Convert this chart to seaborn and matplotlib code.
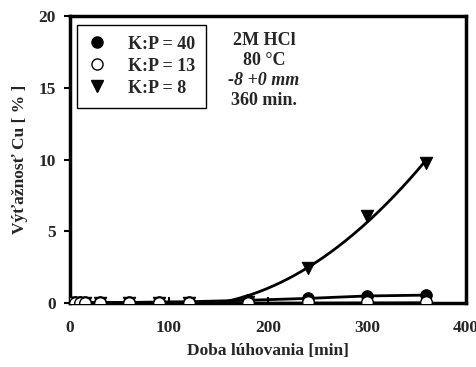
import numpy as np
import pandas as pd
import matplotlib
matplotlib.use("Agg")
import matplotlib.pyplot as plt
import seaborn as sns
from matplotlib.lines import Line2D

time = [0, 5, 10, 15, 30, 60, 90, 120, 180, 240, 300, 360]
kp40 = [0.05, 0.05, 0.05, 0.05, 0.05, 0.05, 0.08, 0.1, 0.2, 0.33, 0.5, 0.56]
kp13 = [0.02, 0.02, 0.02, 0.02, 0.02, 0.02, 0.03, 0.03, 0.04, 0.05, 0.06, 0.07]
kp8 = [0.0, 0.0, 0.0, 0.0, 0.0, 0.0, 0.0, 0.02, 0.1, 2.44, 6.1, 9.76]
labels = ["K:P = 40", "K:P = 13", "K:P = 8"]
conditions = ["2M HCl", "80 °C", "-8 +0 mm", "360 min."]

sns.set_theme(style="white")
plt.rcParams["font.family"] = ["Liberation Serif", "DejaVu Serif"]
plt.rcParams["font.weight"] = "bold"

df = pd.DataFrame({"t": time, "kp40": kp40, "kp13": kp13, "kp8": kp8})

fig = plt.figure(figsize=(4.76, 3.67), dpi=100)
ax = fig.add_axes([0.147, 0.174, 0.832, 0.782])

# trend curve for K:P = 8 (quadratic fit, flat at zero before its minimum)
sub = df[df.t >= 120]
coef = np.polyfit(sub.t, sub.kp8, 2)
tt = np.linspace(0, 360, 400)
fit = np.polyval(coef, tt)
tv = -coef[1] / (2 * coef[0])
fit = np.where(tt < tv, 0.0, np.clip(fit, 0, None))
fdf = pd.DataFrame({"t": tt, "y": fit})
sns.lineplot(data=fdf, x="t", y="y", ax=ax, color="black", lw=2, zorder=2)

sns.lineplot(data=df, x="t", y="kp40", ax=ax, color="black", lw=2, zorder=2)
sns.lineplot(data=df, x="t", y="kp13", ax=ax, color="black", lw=1, zorder=2)

sns.scatterplot(data=df, x="t", y="kp40", ax=ax, marker="o", s=70,
                color="black", edgecolor="black", zorder=4)
sns.scatterplot(data=df, x="t", y="kp13", ax=ax, marker="o", s=70,
                facecolor="white", edgecolor="black", linewidth=1, zorder=5)
sns.scatterplot(data=df, x="t", y="kp8", ax=ax, marker="v", s=80,
                color="black", edgecolor="black", zorder=3)

ax.set_xlim(0, 400)
ax.set_ylim(0, 20)
ax.set_xticks([0, 100, 200, 300, 400])
ax.set_yticks([0, 5, 10, 15, 20])
ax.tick_params(axis="both", labelsize=12.5, width=1.5, length=4, color="black")
ax.tick_params(axis="x", direction="in", pad=12)
ax.tick_params(axis="y", direction="out", left=True, pad=6)
ax.tick_params(axis="x", bottom=True)
for lab in ax.get_xticklabels() + ax.get_yticklabels():
    lab.set_fontweight("bold")
for sp in ax.spines.values():
    sp.set_linewidth(2.5)
    sp.set_color("black")

ax.set_xlabel("Doba lúhovania [min]", fontsize=12.5, fontweight="bold", labelpad=5)
ax.set_ylabel("Výťažnosť Cu [ % ]", fontsize=12.5, fontweight="bold", labelpad=8)

handles = [
    Line2D([], [], marker="o", ls="", color="black", ms=8),
    Line2D([], [], marker="o", ls="", markerfacecolor="white", markeredgecolor="black", ms=8),
    Line2D([], [], marker="v", ls="", color="black", ms=9),
]
leg = ax.legend(handles, labels, loc="upper left", bbox_to_anchor=(0.018, 0.97),
                borderaxespad=0,
                prop={"family": "Liberation Serif", "weight": "bold", "size": 13},
                frameon=True, fancybox=False, edgecolor="black", framealpha=1,
                borderpad=0.6, labelspacing=0.28, handletextpad=1.2, handlelength=1.0)
leg.get_frame().set_linewidth(1)

ys = [0.916, 0.847, 0.777, 0.707]
for txt, y in zip(conditions, ys):
    ax.text(0.49, y, txt, transform=ax.transAxes, ha="center", va="center",
            fontsize=13, fontweight="bold",
            fontstyle="italic" if "mm" in txt else "normal")

fig.savefig("out.png", dpi=100)
